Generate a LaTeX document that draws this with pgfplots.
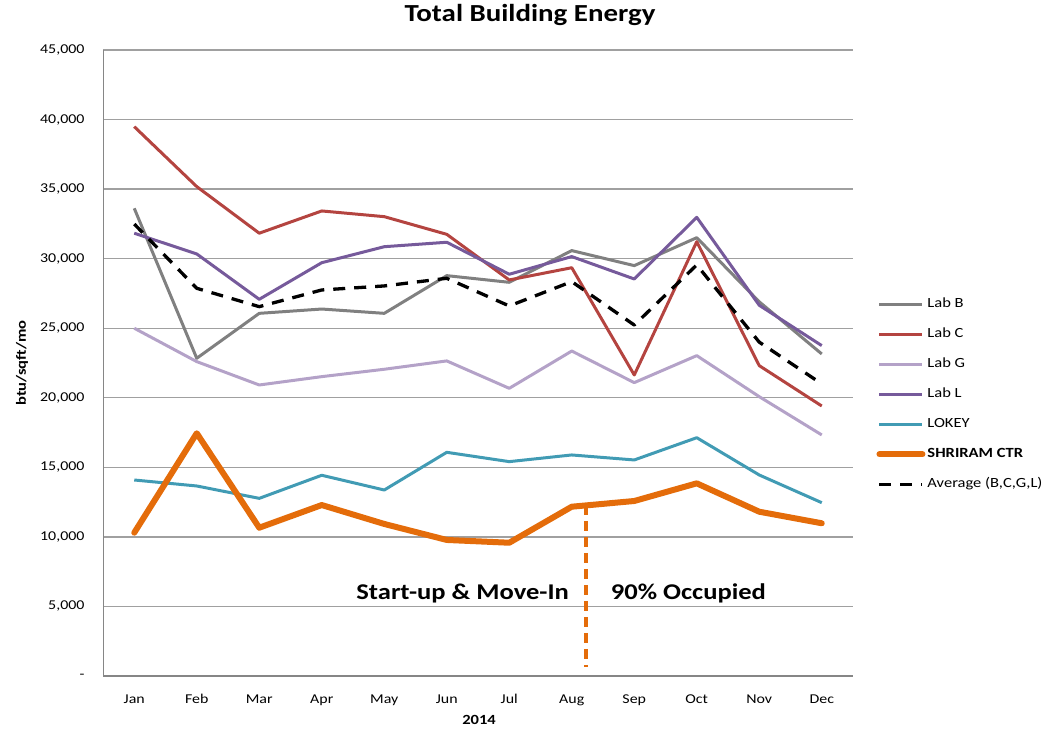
\documentclass[border=0pt]{standalone}
\usepackage{pgfplots}
\pgfplotsset{compat=1.18}
\usepackage{fontspec}
\setmainfont{Carlito}[FakeStretch=1.18]
\definecolor{labb}{RGB}{128,128,128}
\definecolor{labc}{RGB}{180,68,64}
\definecolor{labg}{RGB}{180,162,200}
\definecolor{labl}{RGB}{118,90,155}
\definecolor{lokey}{RGB}{65,155,180}
\definecolor{shri}{RGB}{228,108,10}
\definecolor{gridgray}{RGB}{160,160,160}
\definecolor{axgray}{RGB}{134,134,134}
\begin{document}
\begin{tikzpicture}[x=1pt,y=1pt]
\useasboundingbox (0,0) rectangle (1057,732);
\begin{axis}[
  at={(103pt,56pt)}, anchor=south west,
  scale only axis, width=750pt, height=626pt,
  xmin=-0.5, xmax=11.5, ymin=0, ymax=45000,
  scaled y ticks=false,
  xtick={0,...,11},
  xticklabels={Jan,Feb,Mar,Apr,May,Jun,Jul,Aug,Sep,Oct,Nov,Dec},
  ytick={0,5000,10000,15000,20000,25000,30000,35000,40000,45000},
  yticklabels={-,{5,000},{10,000},{15,000},{20,000},{25,000},{30,000},{35,000},{40,000},{45,000}},
  ymajorgrids, grid style={draw=gridgray, line width=1.3pt},
  axis lines*=left,
  axis line style={draw=none},
  major tick length=0pt,
  /pgf/number format/assume math mode=true,
  tick label style={font=\fontsize{13.5}{16}\selectfont},
  yticklabel style={xshift=-15pt},
  xticklabel style={yshift=-15pt},
  legend cell align=left,
  legend style={at={(axis description cs:1.031,0.606)}, anchor=north west, draw=none, fill=none,
    inner sep=0pt, row sep=15pt,
    nodes={font=\fontsize{14}{17}\selectfont, inner ysep=0pt, text height=11pt, text depth=4pt}},
  legend image code/.code={\draw[#1] (0pt,0pt) -- (43pt,0pt);},
  every axis plot/.append style={line join=round},
]
\addplot[labb, line width=3pt] coordinates {(0,33620)(1,22840)(2,26070)(3,26380)(4,26070)(5,28780)(6,28300)(7,30580)(8,29500)(9,31510)(10,26900)(11,23150)};
\addlegendentry{Lab B}
\addplot[labc, line width=3pt] coordinates {(0,39490)(1,35180)(2,31830)(3,33430)(4,33020)(5,31750)(6,28470)(7,29350)(8,21640)(9,31220)(10,22310)(11,19410)};
\addlegendentry{Lab C}
\addplot[labg, line width=3pt] coordinates {(0,25000)(1,22600)(2,20920)(3,21520)(4,22050)(5,22650)(6,20680)(7,23360)(8,21090)(9,23030)(10,20080)(11,17330)};
\addlegendentry{Lab G}
\addplot[labl, line width=3pt] coordinates {(0,31830)(1,30340)(2,27080)(3,29710)(4,30860)(5,31180)(6,28880)(7,30150)(8,28540)(9,32970)(10,26650)(11,23750)};
\addlegendentry{Lab L}
\addplot[lokey, line width=3pt] coordinates {(0,14090)(1,13660)(2,12770)(3,14430)(4,13370)(5,16080)(6,15410)(7,15890)(8,15530)(9,17130)(10,14450)(11,12460)};
\addlegendentry{LOKEY}
\addplot[shri, line width=6pt, line cap=round] coordinates {(0,10300)(1,17450)(2,10660)(3,12290)(4,10930)(5,9780)(6,9580)(7,12170)(8,12580)(9,13850)(10,11810)(11,10980)};
\addlegendentry{\textbf{SHRIRAM CTR}}
\addplot[black, line width=3.3pt, dash pattern=on 12pt off 9pt] coordinates {(0,32490)(1,27870)(2,26550)(3,27750)(4,28040)(5,28590)(6,26600)(7,28350)(8,25230)(9,29550)(10,24000)(11,21000)};
\addlegendentry{Average (B,C,G,L)}
\addplot[shri, line width=3.5pt, dash pattern=on 10pt off 6pt, forget plot] coordinates {(7.23,12300)(7.23,650)};
\draw[axgray, line width=1.8pt] (rel axis cs:0,0) -- (rel axis cs:0,1);
\draw[axgray, line width=2.6pt] (rel axis cs:0,0) -- (rel axis cs:1,0);
\node[anchor=east, font=\bfseries\fontsize{22.5}{26}\selectfont] at (axis cs:7.01,5950) {Start-up \& Move-In};
\node[anchor=west, font=\bfseries\fontsize{22.5}{26}\selectfont] at (axis cs:7.57,5950) {90\% Occupied};
\end{axis}
\node[font=\bfseries\fontsize{24.5}{28}\selectfont] at (530,717) {Total Building Energy};
\node[font=\bfseries\fontsize{14}{17}\selectfont] at (479,12) {2014};
\node[rotate=90, font=\bfseries\fontsize{14}{17}\selectfont] at (22,369) {btu/sqft/mo};
\end{tikzpicture}
\end{document}
